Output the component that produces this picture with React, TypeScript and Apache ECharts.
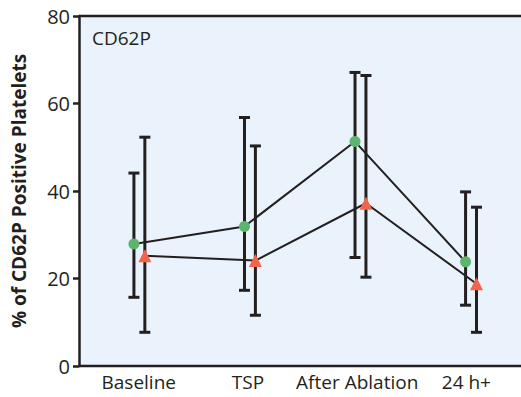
import React, { useEffect, useRef } from "react";
import * as echarts from "echarts";

const categories = ["Baseline", "TSP", "After Ablation", "24 h+"];
const greenMean = [27.9, 31.9, 51.3, 23.8];
const greenLow = [15.7, 17.3, 24.8, 13.9];
const greenHigh = [44.1, 56.8, 67.1, 39.8];
const redMean = [25.2, 24.1, 37.2, 18.8];
const redLow = [7.7, 11.6, 20.3, 7.7];
const redHigh = [52.3, 50.3, 66.4, 36.3];
const yTicks = [0, 20, 40, 60, 80];

const GREEN = "#5DB56D";
const RED = "#F2654C";
const DARK = "#231F20";
const BG = "#EAF2FB";
const FONT = "'Open Sans', 'Noto Sans', sans-serif";

export default function App() {
  const ref = useRef<HTMLDivElement>(null);
  useEffect(() => {
    if (!ref.current) return;
    const chart = echarts.init(ref.current, undefined, { renderer: "svg" });
    const off = 0.0494;
    const xMin = -0.5463;
    const xMax = 3.452;
    const yMin = yTicks[0];
    const yMax = yTicks[yTicks.length - 1];
    const gPts = greenMean.map((v, i) => [i - off, v]);
    const rPts = redMean.map((v, i) => [i + off, v]);
    const gErr = greenMean.map((_, i) => [i - off, greenLow[i], greenHigh[i]]);
    const rErr = redMean.map((_, i) => [i + off, redLow[i], redHigh[i]]);

    const errRender = (params: any, api: any) => {
      const x = api.value(0);
      const lo = api.coord([x, api.value(1)]);
      const hi = api.coord([x, api.value(2)]);
      const cap = 5.5;
      const style = { stroke: DARK, lineWidth: 3 };
      return {
        type: "group",
        children: [
          { type: "line", shape: { x1: lo[0], y1: lo[1], x2: hi[0], y2: hi[1] }, style },
          { type: "line", shape: { x1: hi[0] - cap, y1: hi[1], x2: hi[0] + cap, y2: hi[1] }, style },
          { type: "line", shape: { x1: lo[0] - cap, y1: lo[1], x2: lo[0] + cap, y2: lo[1] }, style },
        ],
      };
    };

    // frame lines (top and bottom) drawn through the same scales as the data
    const frameRender = (params: any, api: any) => {
      const a = api.coord([api.value(0), api.value(2)]);
      const b = api.coord([api.value(1), api.value(2)]);
      return {
        type: "line",
        shape: { x1: a[0], y1: a[1], x2: b[0], y2: b[1] },
        style: { stroke: DARK, lineWidth: 2.5 },
      };
    };

    chart.setOption({
      animation: false,
      backgroundColor: "#ffffff",
      grid: [
        { left: 79, right: -3, top: 16, bottom: 31, show: true, backgroundColor: BG, borderWidth: 0 },
        { left: 84.15, width: 445.2, top: 16, bottom: 31, show: false },
      ],
      xAxis: [
        {
          type: "value", gridIndex: 0, min: xMin, max: xMax, show: false,
        },
        {
          type: "category", gridIndex: 1, data: categories, boundaryGap: true,
          axisLine: { show: false }, axisTick: { show: false },
          axisLabel: { color: DARK, fontSize: 19, fontFamily: FONT, margin: 6, interval: 0 },
        },
      ],
      yAxis: [
        {
          type: "value", gridIndex: 0, min: yMin, max: yMax, interval: 20,
          name: "% of CD62P Positive Platelets", nameLocation: "middle", nameGap: 51,
          nameTextStyle: { color: DARK, fontSize: 19, fontWeight: "bold", fontFamily: FONT },
          axisLine: { show: true, onZero: false, lineStyle: { color: DARK, width: 2.5 } },
          axisTick: { show: true, length: 6, lineStyle: { color: DARK, width: 2.5 } },
          axisLabel: { color: DARK, fontSize: 20, fontFamily: FONT, margin: 9 },
          splitLine: { show: false },
        },
        { type: "value", gridIndex: 1, show: false, min: 0, max: 80 },
      ],
      graphic: [
        {
          type: "text", left: 92, top: 28,
          style: { text: "CD62P", fill: DARK, fontSize: 19, fontFamily: FONT },
        },
      ],
      series: [
        {
          type: "custom", xAxisIndex: 0, yAxisIndex: 0, renderItem: frameRender, clip: false,
          data: [[xMin, xMax, yMax], [xMin, xMax, yMin]], encode: { x: [0, 1], y: 2 }, z: 5, silent: true,
        },
        { type: "custom", xAxisIndex: 0, yAxisIndex: 0, data: gErr, renderItem: errRender, encode: { x: 0, y: [1, 2] }, z: 2 },
        { type: "custom", xAxisIndex: 0, yAxisIndex: 0, data: rErr, renderItem: errRender, encode: { x: 0, y: [1, 2] }, z: 2 },
        {
          type: "line", xAxisIndex: 0, yAxisIndex: 0, data: gPts, symbol: "circle", symbolSize: 11,
          lineStyle: { color: DARK, width: 2 }, itemStyle: { color: GREEN }, z: 3,
        },
        {
          type: "line", xAxisIndex: 0, yAxisIndex: 0, data: rPts, symbol: "triangle", symbolSize: 13,
          lineStyle: { color: DARK, width: 2 }, itemStyle: { color: RED }, z: 3,
        },
      ],
    });
    return () => chart.dispose();
  }, []);
  return <div ref={ref} style={{ position: "fixed", left: 0, top: 0, width: 521, height: 397 }} />;
}
